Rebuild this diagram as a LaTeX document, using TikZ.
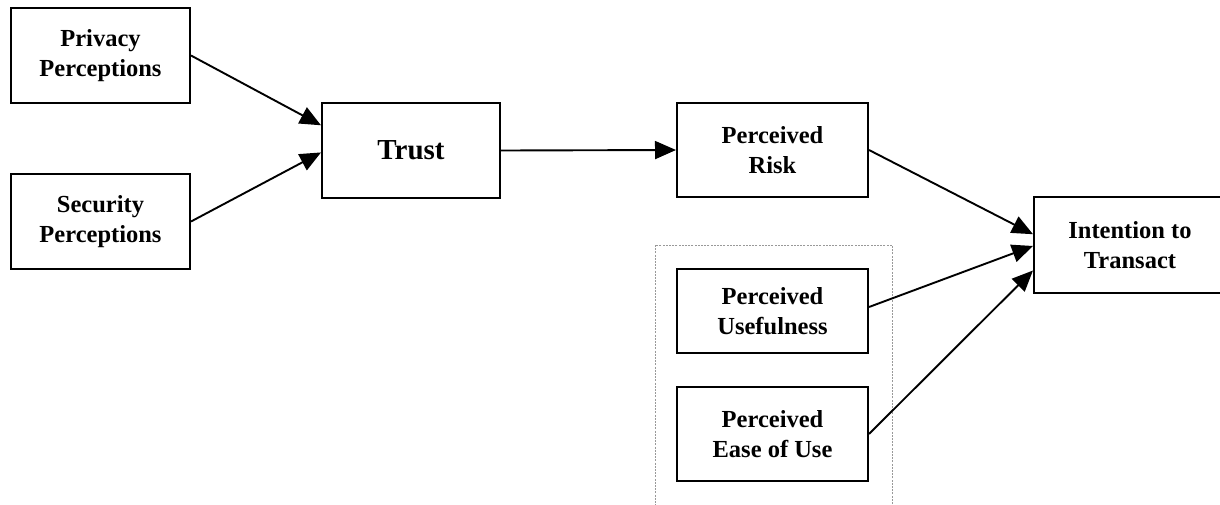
\documentclass[tikz,border=0pt]{standalone}
\usepackage{fontspec}
\setmainfont{Liberation Serif}
\usetikzlibrary{arrows.meta,calc}
\begin{document}
\begin{tikzpicture}[x=1pt,y=-1pt,
  box/.style={draw,line width=2pt,inner sep=0pt,align=center,
    font=\fontsize{24.5}{30}\selectfont\bfseries},
  conn/.style={line width=1.9pt,-{Triangle[length=21pt,width=18pt]}}]
\useasboundingbox (0,0) rectangle (1220,504);
\draw[gray!80,line width=0.7pt,dash pattern=on 2pt off 1.2pt] (655,245) rectangle (892,520);
\node[box,minimum width=179pt,minimum height=95pt] (priv) at (100.5,55.5) {Privacy\\Perceptions};
\node[box,minimum width=179pt,minimum height=95pt] (sec) at (100.5,221.5) {Security\\Perceptions};
\node[box,minimum width=178pt,minimum height=95pt,font=\fontsize{29}{34}\selectfont\bfseries] (trust) at (411,150.5) {Trust};
\node[box,minimum width=191pt,minimum height=94pt] (risk) at (772.5,150) {Perceived\\Risk};
\node[box,minimum width=192pt,minimum height=96pt] (int) at (1130,245) {Intention to\\Transact};
\node[box,minimum width=191pt,minimum height=84pt] (use) at (772.5,311) {Perceived\\Usefulness};
\node[box,minimum width=191pt,minimum height=94pt] (ease) at (772.5,434) {Perceived\\Ease of Use};
\draw[conn] (priv.east) -- ($(trust.north west)!0.24!(trust.south west)$);
\draw[conn] (sec.east) -- ($(trust.north west)!0.52!(trust.south west)$);
\draw[conn] (trust.east) -- (risk.west);
\draw[conn] (risk.east) -- ($(int.north west)!0.39!(int.south west)$);
\draw[conn] ([yshift=4pt]use.east) -- ($(int.north west)!0.51!(int.south west)$);
\draw[conn] (ease.east) -- ($(int.north west)!0.76!(int.south west)$);
\end{tikzpicture}
\end{document}
